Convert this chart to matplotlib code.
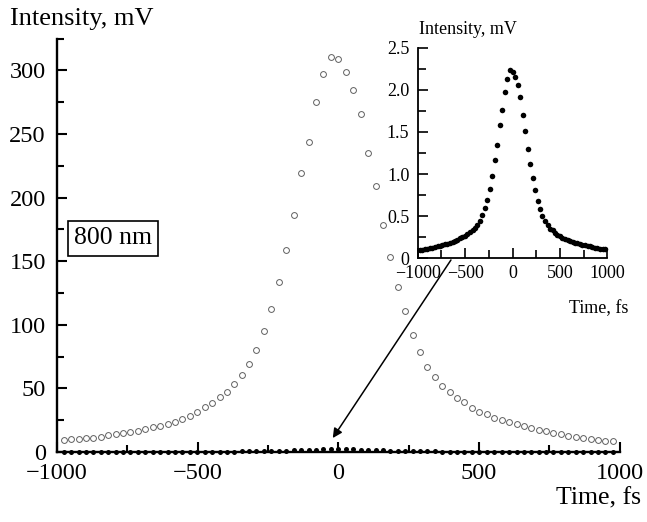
import numpy as np
import matplotlib
matplotlib.use("Agg")
import matplotlib.pyplot as plt
from matplotlib.ticker import MultipleLocator, FuncFormatter

plt.rcParams['font.family'] = ['Liberation Serif', 'DejaVu Serif']
plt.rcParams['axes.unicode_minus'] = True

# time grid (fs)
time_fs = [-976, -950, -923, -897, -871, -844, -818, -791, -765, -739,
           -712, -686, -660, -633, -607, -581, -554, -528, -501, -475,
           -449, -422, -396, -370, -343, -317, -291, -264, -238, -212,
           -185, -159, -132, -106, -80, -53, -27, 0, 26, 53,
           79, 106, 132, 158, 185, 211, 237, 264, 290, 316,
           343, 369, 395, 422, 448, 474, 501, 527, 554, 580,
           606, 633, 659, 685, 712, 738, 764, 791, 817, 843,
           870, 896, 922, 949, 975]

# 800 nm signal (open circles), mV
signal_800 = [9.7, 9.9, 10.2, 10.7, 11.3, 12.0, 13.1, 13.9, 14.7, 15.7,
              16.5, 17.8, 19.4, 20.4, 22.0, 23.8, 25.7, 28.3, 31.4, 35.1,
              38.5, 42.9, 47.1, 53.7, 60.2, 69.6, 80.6, 94.8, 112.3, 133.5,
              159.2, 186.0, 219.5, 244.0, 275.0, 297.0, 310.5, 309.3, 298.5, 285.0,
              266.0, 235.0, 209.0, 178.6, 153.0, 130.0, 110.5, 91.9, 79.0, 67.0,
              59.2, 52.1, 46.9, 42.7, 39.3, 34.5, 31.4, 29.6, 27.0, 25.2,
              23.5, 22.0, 20.4, 18.8, 17.3, 16.2, 14.9, 13.9, 12.8, 11.8,
              11.0, 10.2, 9.4, 8.9, 8.3]

# weak signal (filled dots, shown in the inset), mV
signal_weak = [0.095, 0.100, 0.105, 0.110, 0.120, 0.125, 0.130, 0.140, 0.145, 0.155,
               0.165, 0.172, 0.180, 0.190, 0.205, 0.220, 0.235, 0.250, 0.265, 0.285,
               0.310, 0.335, 0.360, 0.392, 0.447, 0.515, 0.600, 0.696, 0.827, 0.981,
               1.164, 1.350, 1.587, 1.765, 1.980, 2.127, 2.236, 2.216, 2.153, 2.054,
               1.910, 1.700, 1.510, 1.300, 1.120, 0.950, 0.811, 0.680, 0.589, 0.502,
               0.443, 0.395, 0.352, 0.330, 0.300, 0.280, 0.262, 0.245, 0.230, 0.215,
               0.200, 0.195, 0.185, 0.177, 0.168, 0.160, 0.152, 0.145, 0.140, 0.134,
               0.128, 0.122, 0.116, 0.110, 0.105]

main_xticks = [-1000, -500, 0, 500, 1000]
main_yticks = [0, 50, 100, 150, 200, 250, 300]
inset_yticks = [0, 0.5, 1.0, 1.5, 2.0, 2.5]

fig = plt.figure(figsize=(6.47, 5.22), dpi=100)

# main axes
ax = fig.add_axes([0.088, 0.134, 0.870, 0.792])
ax.plot(time_fs, signal_800, 'o', ms=4.2, mfc='none', mec='#606060', mew=0.7, clip_on=False)
ax.plot(time_fs, signal_weak, 'o', ms=3.6, color='black', mew=0, clip_on=False, zorder=5)
ax.set_xlim(-1000, 1000)
ax.set_ylim(0, 325)
ax.set_xticks(main_xticks)
ax.set_yticks(main_yticks)
ax.xaxis.set_minor_locator(MultipleLocator(250))
ax.yaxis.set_minor_locator(MultipleLocator(25))
for s in ['top', 'right']:
    ax.spines[s].set_visible(False)
for s in ['left', 'bottom']:
    ax.spines[s].set_linewidth(1.7)
ax.tick_params(which='both', direction='in', width=1.5, labelsize=17.5)
ax.tick_params(which='major', length=7.5)
ax.tick_params(which='minor', length=5)
ax.tick_params(axis='x', pad=8)
ax.tick_params(axis='y', pad=8)

fig.text(10 / 647, 1 - 25 / 522, 'Intensity, mV', fontsize=19, va='baseline', ha='left')
fig.text(641 / 647, 1 - 504 / 522, 'Time, fs', fontsize=18.5, va='baseline', ha='right')

fig.text(112.7 / 647, 1 - 238.5 / 522, '800 nm', fontsize=18.5, ha='center', va='center',
         bbox=dict(boxstyle='square,pad=0.24', fc='white', ec='black', lw=1.2))

ax.annotate('', xy=(-20, 11), xytext=(400, 151),
            arrowprops=dict(arrowstyle='-|>', color='black', lw=1.1, mutation_scale=14,
                            shrinkA=0, shrinkB=0))

# inset axes
ins = fig.add_axes([0.6456, 0.5052, 0.2931, 0.4034])
ins.plot(time_fs, signal_weak, 'o', ms=4.0, color='black', mew=0, clip_on=False)
ins.set_xlim(-1000, 1000)
ins.set_ylim(0, 2.5)
ins.set_xticks(main_xticks)
ins.set_yticks(inset_yticks)
ins.xaxis.set_minor_locator(MultipleLocator(250))
ins.yaxis.set_minor_locator(MultipleLocator(0.25))
ins.yaxis.set_major_formatter(FuncFormatter(lambda v, p: '0' if v == 0 else f'{v:.1f}'))
for s in ['top', 'right']:
    ins.spines[s].set_visible(False)
for s in ['left', 'bottom']:
    ins.spines[s].set_linewidth(1.3)
ins.tick_params(which='both', direction='in', width=1.2, labelsize=13)
ins.tick_params(which='major', length=7)
ins.tick_params(which='minor', length=5.5)
ins.tick_params(axis='x', pad=5)
ins.tick_params(axis='y', pad=6)

fig.text(419 / 647, 1 - 34 / 522, 'Intensity, mV', fontsize=13, va='baseline', ha='left')
fig.text(628 / 647, 1 - 313 / 522, 'Time, fs', fontsize=13, va='baseline', ha='right')

fig.savefig('out.png', dpi=100)
